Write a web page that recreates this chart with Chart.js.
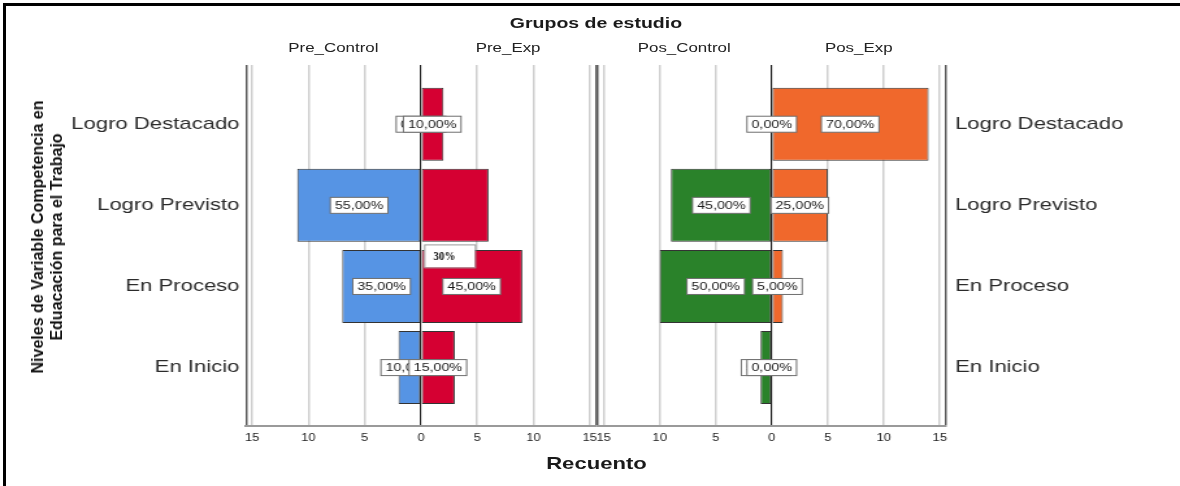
<!DOCTYPE html>
<html>
<head>
<meta charset="utf-8">
<script src="https://cdn.jsdelivr.net/npm/chart.js"></script>
<style>
  html, body { margin: 0; padding: 0; background: #fff; width: 1180px; height: 486px; overflow: hidden; font-family: "Liberation Sans", Arial, sans-serif; }
  #frame { position: absolute; left: 3px; top: 3px; right: -10px; bottom: -10px; border-top: 3px solid #000; border-left: 3px solid #000; }
  /* the reference is stretched horizontally, so the whole chart is drawn narrow and scaled */
  #stage { position: absolute; left: 0; top: 0; width: 908px; height: 486px; transform: scaleX(1.29956); transform-origin: 0 0; }
  #stage canvas { position: absolute; top: 0; }
  .txt { position: absolute; white-space: nowrap; transform: translateX(-50%); color: #1a1a1a; }
  .head { top: 15px; font-size: 15px; line-height: 15px; font-weight: bold; }
  .group { top: 41px; font-size: 13px; line-height: 13px; color: #222; }
  .foot { top: 455px; font-size: 17px; line-height: 17px; font-weight: bold; }
  #ytitle { position: absolute; left: 47px; top: 237px; transform: translate(-50%, -50%) rotate(-90deg); white-space: nowrap; text-align: center; font-weight: bold; font-size: 16px; line-height: 19px; color: #111; }
</style>
</head>
<body>
<div id="frame"></div>
<div id="stage">
  <canvas id="pre" width="460" height="486" style="left:0"></canvas>
  <canvas id="pos" width="450" height="486" style="left:458px"></canvas>
  <div class="txt head" style="left:458.6px">Grupos de estudio</div>
  <div class="txt group" style="left:256.5px">Pre_Control</div>
  <div class="txt group" style="left:391px">Pre_Exp</div>
  <div class="txt group" style="left:526.5px">Pos_Control</div>
  <div class="txt group" style="left:660.8px">Pos_Exp</div>
  <div class="txt foot" style="left:459px">Recuento</div>
</div>
<div id="ytitle">Niveles de Variable Competencia en<br>Eduacación para el Trabajo</div>

<script>
const categories = ['Logro Destacado', 'Logro Previsto', 'En Proceso', 'En Inicio'];

// counts per group (n = 20 each)
const preControl = [0, 11, 7, 2];
const preExp = [2, 6, 9, 3];
const posControl = [0, 9, 10, 1];
const posExp = [14, 5, 1, 0];

const countTicks = [-15, -10, -5, 0, 5, 10, 15];
const axisLimit = 15.55;

// the "30%" box pasted over the Pre_Exp / Logro Previsto label
const notes = [{ group: 'Pre_Exp', index: 1 }];

Chart.defaults.font.family = '"Liberation Sans", Arial, sans-serif';

function pctLabel(counts, i) {
    const total = counts.reduce((a, b) => a + b, 0);
    return (counts[i] / total * 100).toFixed(2).replace('.', ',') + '%';
}

const boxLabels = {
    id: 'boxLabels',
    afterDatasetsDraw(chart) {
        const ctx = chart.ctx;
        const xs = chart.scales.x;
        const zero = xs.getPixelForValue(0);
        const pending = [];
        ctx.save();
        ctx.font = '11px "Liberation Sans", Arial, sans-serif';
        ctx.textAlign = 'center';
        ctx.textBaseline = 'middle';
        chart.data.datasets.forEach((ds, di) => {
            const meta = chart.getDatasetMeta(di);
            meta.data.forEach((bar, i) => {
                if (notes.some(n => n.group === ds.label && n.index === i)) {
                    pending.push({ counts: ds.counts, i });
                    return;
                }
                const txt = pctLabel(ds.counts, i);
                // every bar starts at 0, so its middle is half way to its value
                const cx = (zero + xs.getPixelForValue(ds.data[i].x)) / 2;
                const w = ctx.measureText(txt).width + 7;
                ctx.fillStyle = '#fff';
                ctx.fillRect(cx - w / 2, bar.y - 8, w, 16);
                ctx.strokeStyle = '#6f6f6f';
                ctx.lineWidth = 1;
                ctx.strokeRect(cx - w / 2, bar.y - 8, w, 16);
                ctx.fillStyle = '#1a1a1a';
                ctx.fillText(txt, cx, bar.y + 0.5);
            });
        });
        pending.forEach(p => {
            const total = p.counts.reduce((a, b) => a + b, 0);
            const txt = Math.round(p.counts[p.i] / total * 100) + '%';
            const left = zero + 2.4;
            const top = chart.scales.y.getPixelForValue(p.i + 0.5) - 1.5;
            ctx.fillStyle = '#fff';
            ctx.fillRect(left, top, 39, 23);
            ctx.strokeStyle = '#9a9a9a';
            ctx.lineWidth = 1;
            ctx.strokeRect(left + 0.5, top + 0.5, 39, 23);
            ctx.save();
            ctx.translate(left + 7.2, top + 15.7);
            ctx.scale(0.67, 1);
            ctx.font = 'bold 12.5px "Liberation Serif", "Times New Roman", serif';
            ctx.textAlign = 'left';
            ctx.textBaseline = 'alphabetic';
            ctx.fillStyle = '#111';
            ctx.fillText(txt, 0, 0);
            ctx.restore();
        });
        ctx.restore();
    }
};

function gridColor(v) {
    if (v === 0) return '#1a1a1a';
    if (Math.abs(v) > 15) return '#5a5a5a';
    return '#cfcfcf';
}

function gridWidth(v) {
    if (v === 0) return 1.1;
    return 1.5;
}

function panelChart(id, side, groups) {
    return new Chart(document.getElementById(id), {
        type: 'bar',
        data: {
            datasets: groups.map(g => ({
                label: g.name,
                counts: g.counts,
                data: g.counts.map((v, i) => ({ x: g.sign * v, y: i })),
                backgroundColor: g.color,
                borderColor: '#333',
                borderWidth: 1,
                borderSkipped: false,
                barPercentage: 0.9,
                categoryPercentage: 1
            }))
        },
        options: {
            indexAxis: 'y',
            responsive: false,
            animation: false,
            layout: {
                padding: side === 'left' ? { top: 65, right: 1.4 } : { top: 65, left: 1.8 }
            },
            plugins: {
                legend: { display: false },
                tooltip: { enabled: false }
            },
            scales: {
                x: {
                    type: 'linear',
                    min: -axisLimit,
                    max: axisLimit,
                    stacked: true,
                    afterBuildTicks: s => { s.ticks = [-axisLimit, ...countTicks, axisLimit].map(v => ({ value: v })); },
                    afterFit: s => { s.height = 60; s.paddingLeft = 0; s.paddingRight = 0; },
                    grid: {
                        color: c => gridColor(c.tick.value),
                        lineWidth: c => gridWidth(c.tick.value),
                        drawTicks: false
                    },
                    border: { color: '#9a9a9a', width: 2 },
                    ticks: {
                        callback: v => countTicks.includes(v) ? Math.abs(v) : '',
                        font: { size: 10 },
                        color: '#222',
                        padding: 6,
                        maxRotation: 0,
                        autoSkip: false
                    }
                },
                y: {
                    type: 'linear',
                    position: side,
                    reverse: true,
                    offset: false,
                    min: -0.73,
                    max: 3.72,
                    stacked: true,
                    afterBuildTicks: s => { s.ticks = categories.map((c, i) => ({ value: i })); },
                    afterFit: s => { s.width = side === 'left' ? 189.3 : 180.1; },
                    grid: { display: false, drawTicks: false, offset: false },
                    border: { display: false },
                    ticks: {
                        callback: v => categories[v],
                        font: { size: 17 },
                        color: '#2b2b2b',
                        padding: side === 'left' ? 5 : 7,
                        autoSkip: false
                    }
                }
            }
        },
        plugins: [boxLabels]
    });
}

panelChart('pre', 'left', [
    { name: 'Pre_Control', counts: preControl, sign: -1, color: 'rgb(86, 148, 228)' },
    { name: 'Pre_Exp', counts: preExp, sign: 1, color: 'rgb(213, 0, 50)' }
]);

panelChart('pos', 'right', [
    { name: 'Pos_Control', counts: posControl, sign: -1, color: 'rgb(42, 130, 42)' },
    { name: 'Pos_Exp', counts: posExp, sign: 1, color: 'rgb(240, 104, 44)' }
]);
</script>
</body>
</html>
